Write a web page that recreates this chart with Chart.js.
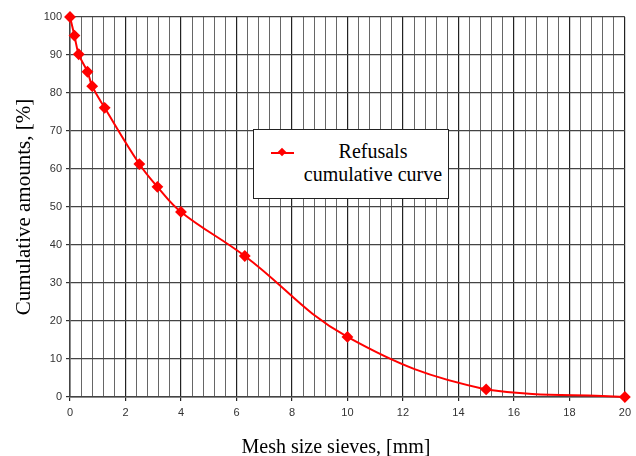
<!DOCTYPE html>
<html>
<head>
<meta charset="utf-8">
<script src="https://cdn.jsdelivr.net/npm/chart.js@4.4.0/dist/chart.umd.min.js"></script>
<style>
  html, body { margin: 0; padding: 0; background: #fff; }
  #wrap { position: relative; width: 636px; height: 456px; }
  #legend { position: absolute; left: 253px; top: 129px; width: 196px; height: 70px;
            border: 1px solid #222; background: #fff; box-sizing: border-box; }
  #legend .line { position: absolute; left: 17px; top: 22px; width: 23px; height: 2px; background: #f00; }
  #legend .dot { position: absolute; left: 25px; top: 19px; width: 6px; height: 6px; background: #f00; transform: rotate(45deg); }
  #legend .txt { position: absolute; left: 46px; top: 10px; width: 146px; text-align: center;
                 font: 20px "Liberation Serif", serif; line-height: 23px; color: #000; }
  #xtitle { position: absolute; left: 216px; top: 435px; width: 240px; text-align: center;
            font: 20px "Liberation Serif", serif; line-height: 22px; color: #000; white-space: nowrap; }
</style>
</head>
<body>
<div id="wrap">
  <canvas id="chart" width="636" height="456"></canvas>
  <div id="legend">
    <div class="line"></div><div class="dot"></div>
    <div class="txt">Refusals<br>cumulative curve</div>
  </div>
  <div id="xtitle">Mesh size sieves, [mm]</div>
</div>
<script>
const meshSizes = [0, 0.16, 0.315, 0.63, 0.8, 1.25, 2.5, 3.15, 4, 6.3, 10, 15, 20];
const cumulative = [100, 95.1, 90.2, 85.6, 81.8, 76.1, 61.3, 55.3, 48.7, 37.1, 15.8, 2.0, 0];
const seriesLabel = 'Refusals cumulative curve';

const points = meshSizes.map((x, i) => ({x: x, y: cumulative[i]}));

function isMajor(v) {
    return Math.abs(v / 2 - Math.round(v / 2)) < 1e-6;
}

const ctx = document.getElementById('chart').getContext('2d');
const chart = new Chart(ctx, {
    type: 'line',
    data: {
        datasets: [{
            label: seriesLabel,
            data: points,
            borderColor: '#ff0000',
            backgroundColor: '#ff0000',
            borderWidth: 2,
            pointStyle: 'rectRot',
            pointRadius: 4.5,
            tension: 0.4,
            fill: false,
            clip: false
        }]
    },
    options: {
        responsive: false,
        animation: false,
        layout: { padding: { left: 0, right: 9, top: 17, bottom: 0 } },
        plugins: { legend: { display: false }, tooltip: { enabled: false } },
        scales: {
            x: {
                type: 'linear',
                min: 0,
                max: 20,
                afterFit: (s) => { s.height = 59; },
                ticks: {
                    stepSize: 0.4,
                    autoSkip: false,
                    maxRotation: 0,
                    padding: 5,
                    color: '#333',
                    font: { family: 'Liberation Sans', size: 11 },
                    callback: (v) => isMajor(v) ? Math.round(v).toString() : ''
                },
                grid: {
                    color: (c) => isMajor(c.tick.value) ? '#222' : '#666',
                    lineWidth: (c) => isMajor(c.tick.value) ? 1.2 : 1,
                    tickLength: 4,
                    tickColor: (c) => isMajor(c.tick.value) ? '#222' : 'rgba(0,0,0,0)'
                },
                border: { color: '#444', width: 1.5 }
            },
            y: {
                min: 0,
                max: 100,
                afterFit: (s) => { s.width = 70; },
                ticks: {
                    stepSize: 10,
                    padding: 4,
                    color: '#333',
                    font: { family: 'Liberation Sans', size: 11 }
                },
                grid: {
                    color: '#444',
                    lineWidth: 1.2,
                    tickLength: 4,
                    tickColor: '#333'
                },
                border: { color: '#444', width: 1.5 },
                title: {
                    display: true,
                    text: 'Cumulative amounts, [%]',
                    color: '#000',
                    font: { family: 'Liberation Serif', size: 21 },
                    padding: { top: 12, bottom: 6 }
                }
            }
        }
    }
});
</script>
</body>
</html>
